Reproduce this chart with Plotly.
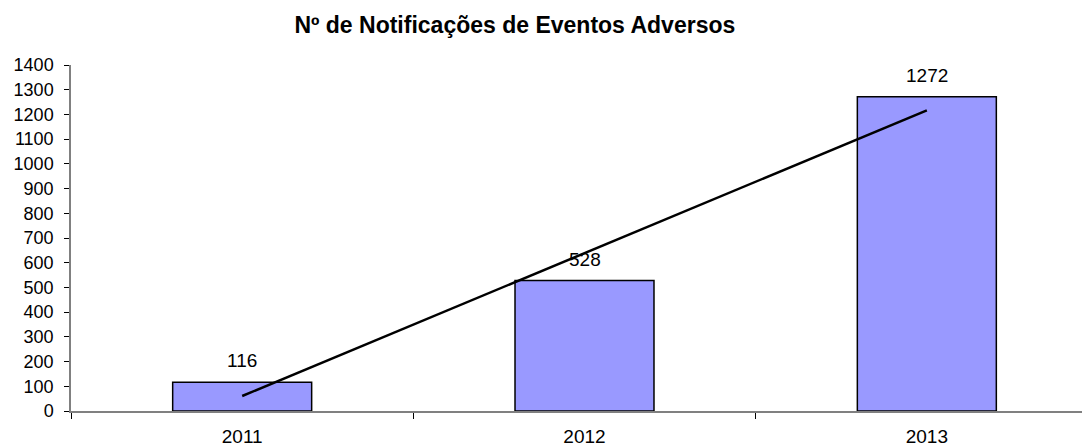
import plotly.graph_objects as go
import numpy as np

YEARS = ['2011', '2012', '2013']
NOTIFICATIONS = [116, 528, 1272]
Y_TICKS = list(range(0, 1401, 100))

BAR_COLOR = "#9999FF"
AXIS_COLOR = "#808080"
FONT = "Liberation Sans, Arial, sans-serif"

# linear trendline, same as the spreadsheet's one
idx = np.arange(len(YEARS))
slope, intercept = np.polyfit(idx, NOTIFICATIONS, 1)
trend = (slope * idx + intercept).tolist()

fig = go.Figure()

fig.add_trace(
    go.Bar(
        x=YEARS,
        y=NOTIFICATIONS,
        width=0.406,
        marker_color=BAR_COLOR,
        marker_line_color="black",
        marker_line_width=1.5,
        showlegend=False,
        hoverinfo='x+y'
    )
)

fig.add_trace(
    go.Scatter(
        x=YEARS,
        y=trend,
        mode='lines',
        line_color='black',
        line_width=2.5,
        showlegend=False,
        hoverinfo='skip'
    )
)

# value labels above the bars (category index as x)
for i, value in enumerate(NOTIFICATIONS):
    fig.add_annotation(
        x=i,
        y=value,
        xref='x',
        yref='y',
        text=str(value),
        showarrow=False,
        yanchor='bottom',
        yshift=9,
        font=dict(size=19, color='black', family=FONT)
    )

fig.update_layout(
    width=1090,
    height=446,
    margin=dict(l=63, r=0, t=57, b=43),
    plot_bgcolor='white',
    paper_bgcolor='white',
    font=dict(family=FONT, color='black', size=18),
    title=dict(
        text='<b>Nº de Notificações de Eventos Adversos</b>',
        x=0.465,
        xanchor='center',
        y=0.962,
        yanchor='middle',
        font=dict(size=23, color='black', family=FONT)
    ),
    xaxis=dict(
        type='category',
        range=[-0.5, 2.5],
        showgrid=False,
        showline=True,
        linecolor=AXIS_COLOR,
        linewidth=2,
        ticks='outside',
        tickson='boundaries',
        ticklen=6,
        tickcolor='black',
        tickfont=dict(size=19),
        ticklabelstandoff=7,
        zeroline=False
    ),
    yaxis=dict(
        range=[0, 1400],
        tickvals=Y_TICKS,
        showgrid=False,
        showline=True,
        linecolor=AXIS_COLOR,
        linewidth=1.5,
        ticks='outside',
        ticklen=5,
        tickcolor='black',
        tickfont=dict(size=18),
        ticklabelstandoff=7,
        zeroline=False
    )
)

fig.write_html("out.html")
